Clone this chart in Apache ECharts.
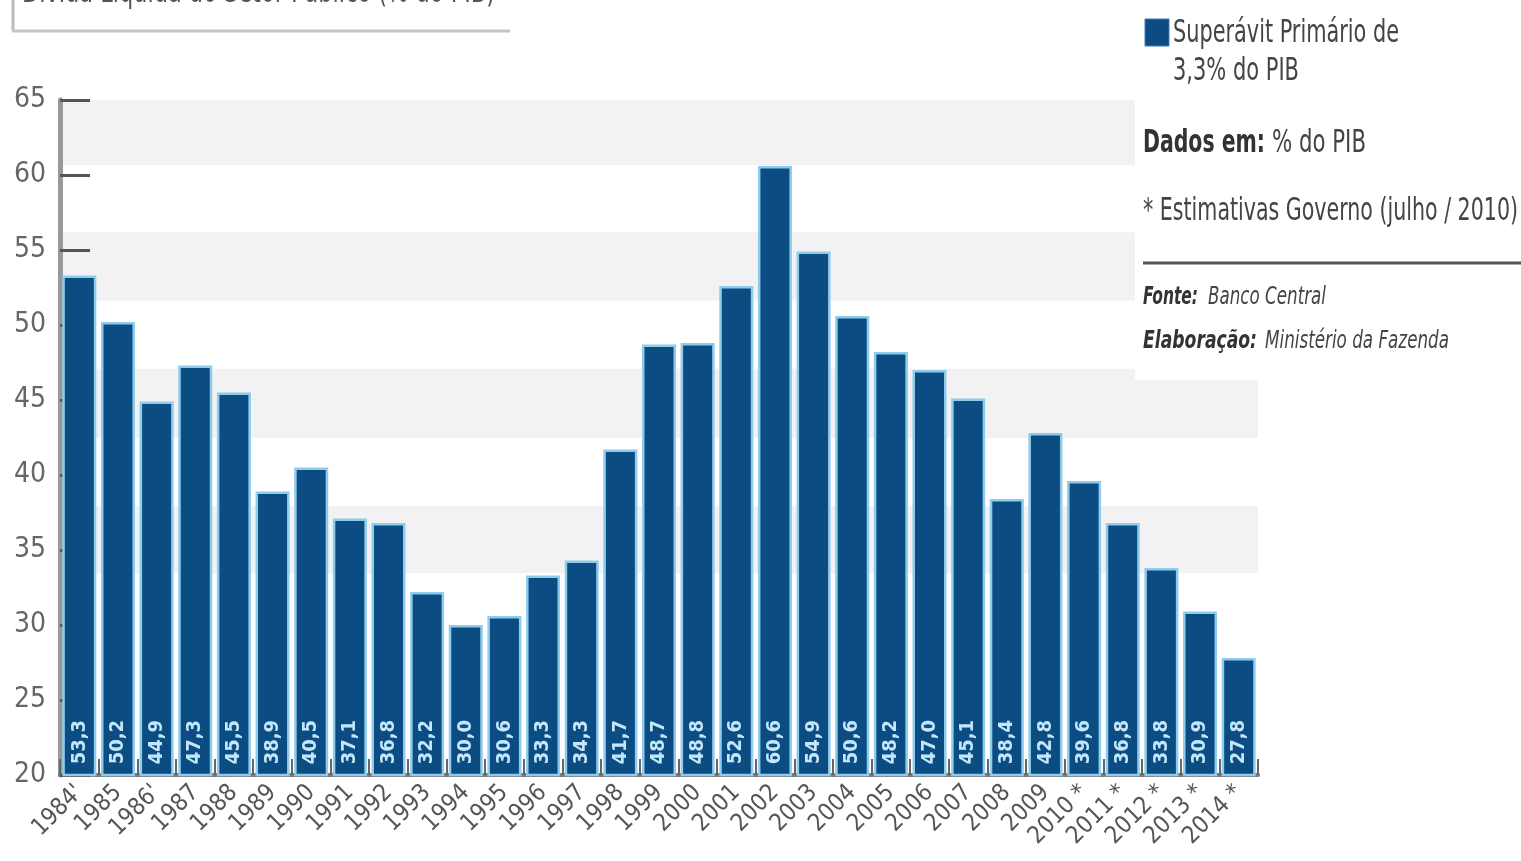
<!DOCTYPE html>
<html><head><meta charset="utf-8">
<script src="https://cdn.jsdelivr.net/npm/echarts@6/dist/echarts.min.js"></script>
<style>html,body{margin:0;padding:0;background:#fff}#c{width:1521px;height:861px}</style>
</head><body><div id="c"></div>
<script>
var years = ["1984'","1985","1986'","1987","1988","1989","1990","1991","1992","1993","1994","1995","1996","1997","1998","1999","2000","2001","2002","2003","2004","2005","2006","2007","2008","2009","2010 *","2011 *","2012 *","2013 *","2014 *"];
var divida = [53.3,50.2,44.9,47.3,45.5,38.9,40.5,37.1,36.8,32.2,30.0,30.6,33.3,34.3,41.7,48.7,48.8,52.6,60.6,54.9,50.6,48.2,47.0,45.1,38.4,42.8,39.6,36.8,33.8,30.9,27.8];
var seriesName = "Superávit Primário de 3,3% do PIB";
var legendLines = ["Superávit Primário de","3,3% do PIB"];
var titleText = "Dívida Líquida do Setor Público (% do PIB)";
var bandRanges = [[60.65,65],[51.63,56.18],[42.47,47.08],[33.45,37.93]];

var NARROW = "'DejaVu Sans Condensed','Liberation Sans Narrow',sans-serif";
var ctx = document.createElement('canvas').getContext('2d');
function fitText(text, x, y, size, weight, style, color, targetW){
  var font = (style||'normal')+' '+(weight||'normal')+' '+size+'px '+NARROW;
  ctx.font = font;
  var w = ctx.measureText(text).width;
  return {type:'text',z:101,x:x,y:y,scaleX:targetW/w,scaleY:1,
    style:{text:text,font:font,fill:color,textVerticalAlign:'middle'}};
}
var chart = echarts.init(document.getElementById('c'));
chart.setOption({
  animation:false,
  backgroundColor:'#fff',
  grid:{left:60,right:263,top:100,bottom:86,containLabel:false},
  xAxis:{
    type:'category', data:years,
    axisLine:{lineStyle:{color:'#7a7a7a',width:4}},
    axisTick:{show:true,inside:true,length:16,lineStyle:{color:'#666',width:2}},
    axisLabel:{rotate:45,fontFamily:NARROW,fontSize:24,color:'#555',margin:14,interval:0}
  },
  yAxis:{
    type:'value', min:20, max:65, interval:5,
    splitLine:{show:false},
    axisLine:{show:true,lineStyle:{color:'#999',width:5}},
    axisTick:{show:true,inside:true,length:30,lineStyle:{color:'#555',width:3}},
    axisLabel:{fontFamily:NARROW,fontSize:28,color:'#666',margin:14}
  },
  series:[{
    name:seriesName, type:'bar', data:divida, barWidth:34,
    itemStyle:{color:'#0b4d82',borderColor:'#8fcbec',borderWidth:2.5},
    label:{show:true,position:'insideBottom',rotate:90,distance:12,
      formatter:function(p){return p.value.toFixed(1).replace('.',',');},
      fontFamily:NARROW,fontSize:20,fontWeight:'bold',color:'#c4e6fa',align:'left',verticalAlign:'middle'},
    markArea:{silent:true,z:-1,itemStyle:{color:'#f2f2f2'},
      data:bandRanges.map(function(b){return [{yAxis:b[0]},{yAxis:b[1]}];})}
  }],
  graphic:[
    {type:'rect',z:100,shape:{x:1135,y:0,width:386,height:380},style:{fill:'#fff'}},
    {type:'line',z:101,shape:{x1:13,y1:0,x2:13,y2:31},style:{stroke:'#bbb',lineWidth:3}},
    {type:'line',z:101,shape:{x1:12,y1:31,x2:510,y2:31},style:{stroke:'#c4c4c4',lineWidth:3}},
    fitText(titleText,22,-6,32,'normal','normal','#555',473),
    {type:'rect',z:101,shape:{x:1145,y:19,width:24,height:27},style:{fill:'#0b4d82',stroke:'#3f7db0',lineWidth:1}},
    fitText(legendLines[0],1173,34,32,'normal','normal','#444',226),
    fitText(legendLines[1],1173,72,32,'normal','normal','#444',126),
    fitText('Dados em:',1143,144,32,'bold','normal','#333',122),
    fitText('% do PIB',1272,144,32,'normal','normal','#444',94),
    fitText('* Estimativas Governo (julho / 2010)',1143,212,32,'normal','normal','#444',375),
    {type:'line',z:101,shape:{x1:1143,y1:263,x2:1521,y2:263},style:{stroke:'#555',lineWidth:3}},
    fitText('Fonte:',1143,298,24,'bold','italic','#333',55),
    fitText('Banco Central',1208,298,24,'normal','italic','#444',118),
    fitText('Elaboração:',1143,342,24,'bold','italic','#333',114),
    fitText('Ministério da Fazenda',1265,342,24,'normal','italic','#444',184)
  ]
});
</script></body></html>
